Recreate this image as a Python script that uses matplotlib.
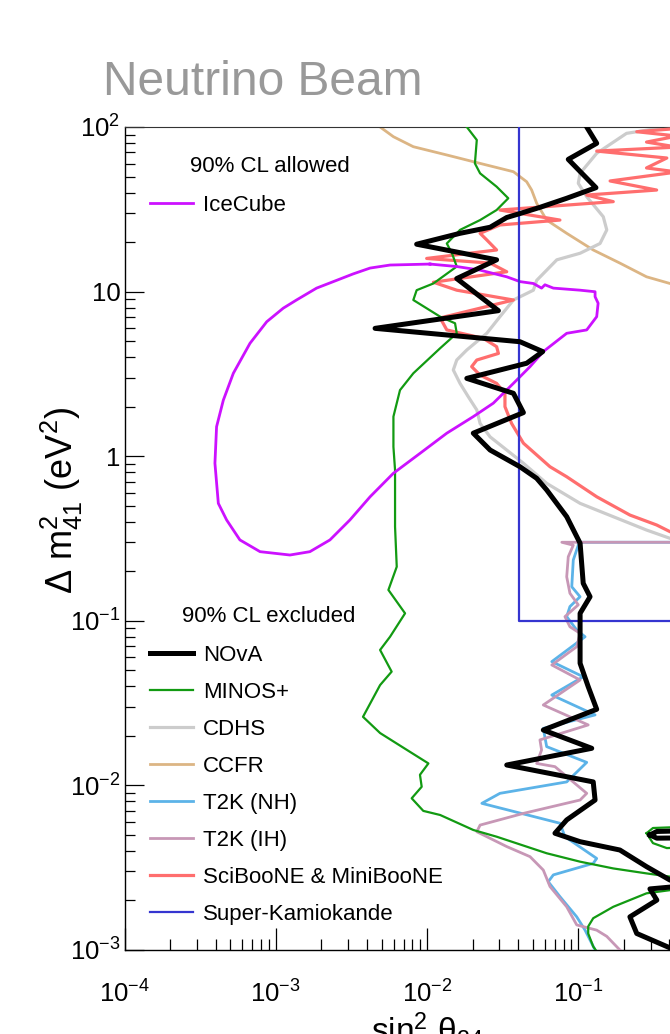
import matplotlib
matplotlib.use('Agg')
import matplotlib.pyplot as plt
from matplotlib.ticker import LogLocator, NullFormatter

plt.rcParams['font.family'] = ['Liberation Sans', 'DejaVu Sans']
plt.rcParams['mathtext.fontset'] = 'custom'
plt.rcParams['mathtext.rm'] = 'Liberation Sans'
plt.rcParams['mathtext.it'] = 'Liberation Sans:italic'
plt.rcParams['mathtext.bf'] = 'Liberation Sans:bold'

# ---------------- data (sin^2 theta_24, Delta m^2_41) ----------------
nova_s2 = [0.1135, 0.1321, 0.0857, 0.1306, 0.0837, 0.0557, 0.0401, 0.0336, 0.0261, 0.0165,
           0.00853, 0.0288, 0.0157, 0.0296, 0.00453, 0.0411, 0.0581, 0.0455, 0.0183, 0.0372,
           0.0433, 0.0202, 0.0261, 0.0411, 0.0530, 0.0617, 0.0837, 0.1026, 0.1076, 0.1194,
           0.1026, 0.1026, 0.1026, 0.1161, 0.1321, 0.0586, 0.1225, 0.0336, 0.1253, 0.1289,
           0.0837, 0.0700, 0.1026, 0.188, 0.282, 0.403, 0.6, 0.403, 0.297, 0.330,
           0.219, 0.243, 0.403, 0.6]
nova_dm2 = [100, 79.6, 63.6, 42.8, 36.9, 32.5, 29.6, 28.2, 24.6, 22.6,
            19.4, 15.6, 12.0, 7.66, 5.98, 4.96, 4.32, 3.67, 2.97, 2.41,
            1.84, 1.38, 1.09, 0.863, 0.734, 0.624, 0.429, 0.296, 0.169, 0.140,
            0.111, 0.0879, 0.0552, 0.0398, 0.0290, 0.0217, 0.0168, 0.0133, 0.0105, 0.00815,
            0.00617, 0.00512, 0.00455, 0.00405, 0.00321, 0.00266, 0.0025, 0.00241, 0.00235, 0.00201,
            0.00159, 0.00126, 0.00103, 0.0009]
nova_island_s2 = [0.297, 0.33, 0.5, 0.5, 0.33, 0.297]
nova_island_dm2 = [0.0050, 0.00525, 0.0053, 0.0048, 0.00478, 0.0050]

minos_s2 = [0.0183, 0.0213, 0.0207, 0.0224, 0.0288, 0.0344, 0.0288, 0.0224, 0.0165, 0.0135,
            0.0146, 0.0157, 0.0110, 0.00853, 0.00811, 0.0122, 0.0153, 0.0157, 0.0122, 0.00811,
            0.00662, 0.00599, 0.00599, 0.00614, 0.00614, 0.00630, 0.00555, 0.00715, 0.00569, 0.00489,
            0.00583, 0.00489, 0.00377, 0.00489, 0.00679, 0.0102, 0.00897, 0.00921, 0.00791, 0.00944,
            0.0122, 0.0202, 0.0288, 0.0617, 0.1026, 0.170, 0.282, 0.403, 0.8, 0.403,
            0.282, 0.170, 0.1253, 0.1161, 0.1161, 0.1253, 0.1321]
minos_dm2 = [100, 83.4, 60.1, 52.3, 43.4, 36.9, 31.3, 27.2, 23.7, 19.6,
             17.1, 14.2, 11.2, 10.2, 8.89, 7.04, 6.42, 5.58, 4.53, 3.19,
             2.52, 1.74, 1.14, 0.824, 0.373, 0.213, 0.154, 0.111, 0.0800, 0.0665,
             0.0491, 0.0407, 0.0261, 0.0208, 0.0172, 0.0136, 0.0116, 0.00981, 0.00835, 0.00700,
             0.00661, 0.00536, 0.00488, 0.00387, 0.00344, 0.00313, 0.00292, 0.00279, 0.0026, 0.00231,
             0.00221, 0.00183, 0.00156, 0.00139, 0.00126, 0.00105, 0.00098]
minos_island_s2 = [0.282, 0.311, 0.5, 0.5, 0.384, 0.311, 0.282]
minos_island_dm2 = [0.00512, 0.00551, 0.0056, 0.0042, 0.00416, 0.00446, 0.00512]

cdhs_s2 = [0.384, 0.208, 0.1321, 0.1026, 0.0998, 0.1135, 0.146, 0.154, 0.139, 0.1026,
           0.0720, 0.0530, 0.0504, 0.0372, 0.0303, 0.0248, 0.0183, 0.0157, 0.0149, 0.0165,
           0.0187, 0.0213, 0.0224, 0.0261, 0.0336, 0.0433, 0.0617, 0.1026, 0.170, 0.282,
           0.403, 0.8]
cdhs_dm2 = [100, 91.5, 69.2, 52.3, 45.5, 37.7, 28.5, 23.7, 19.6, 17.1,
            15.6, 11.7, 10.2, 8.89, 7.04, 5.58, 4.42, 3.84, 3.34, 2.77,
            2.30, 1.91, 1.58, 1.31, 1.09, 0.906, 0.684, 0.517, 0.429, 0.356,
            0.317, 0.27]

ccfr_s2 = [0.00489, 0.00599, 0.00811, 0.0135, 0.0224, 0.0372, 0.0455, 0.0491, 0.0530, 0.0617,
           0.0837, 0.1253, 0.188, 0.282, 0.403, 0.9]
ccfr_dm2 = [100, 87.3, 75.9, 67.6, 60.1, 53.5, 46.5, 41.4, 34.4, 27.2,
            22.6, 17.9, 14.9, 12.3, 11.2, 9.5]

t2knh_s2 = [1.0, 0.0998, 0.0998, 0.0925, 0.0904, 0.1026, 0.0879, 0.0837, 0.0975, 0.1107,
            0.0667, 0.1076, 0.0667, 0.1289, 0.0586, 0.0617, 0.1135, 0.0837, 0.0303, 0.0230,
            0.0755, 0.0815, 0.1321, 0.1253, 0.0683, 0.0632, 0.0755, 0.0975, 0.1107, 0.1289,
            0.14]
t2knh_dm2 = [0.30, 0.30, 0.288, 0.234, 0.161, 0.140, 0.122, 0.106, 0.0879, 0.0800,
             0.0565, 0.0457, 0.0354, 0.0268, 0.0222, 0.0172, 0.0138, 0.0105, 0.00895, 0.00778,
             0.00589, 0.00488, 0.00360, 0.00336, 0.00286, 0.00260, 0.00211, 0.00159, 0.00132, 0.001,
             0.0009]

t2kih_s2 = [1.0, 0.0777, 0.0925, 0.0857, 0.0837, 0.0879, 0.0998, 0.0815, 0.0879, 0.1026,
            0.0975, 0.0667, 0.1026, 0.0586, 0.1161, 0.0557, 0.0571, 0.0530, 0.0700, 0.1135,
            0.1026, 0.0433, 0.0224, 0.0213, 0.0336, 0.0479, 0.0586, 0.0649, 0.0837, 0.0975,
            0.1321, 0.154, 0.188, 0.2]
t2kih_dm2 = [0.30, 0.30, 0.288, 0.245, 0.185, 0.147, 0.125, 0.106, 0.0920, 0.0839,
             0.0696, 0.0539, 0.0437, 0.0308, 0.0233, 0.0189, 0.0164, 0.0136, 0.0130, 0.00895,
             0.00815, 0.00676, 0.00574, 0.00523, 0.00425, 0.00369, 0.00306, 0.00243, 0.00183, 0.00142,
             0.00132, 0.00121, 0.001, 0.00095]

boone_s2 = [0.6, 0.243, 0.45, 0.282, 0.45, 0.1321, 0.384, 0.282, 0.45, 0.162,
            0.329, 0.1135, 0.170, 0.0303, 0.0755, 0.0303, 0.0224, 0.0248, 0.0288, 0.00993,
            0.0261, 0.0336, 0.0110, 0.0157, 0.0372, 0.0122, 0.0135, 0.0235, 0.0288, 0.0296,
            0.0213, 0.0197, 0.0224, 0.0288, 0.0327, 0.0327, 0.0362, 0.0433, 0.0649, 0.0837,
            0.1321, 0.219, 0.329, 0.403, 0.8]
boone_dm2 = [100, 93.6, 88.1, 81.0, 75.5, 71.4, 64.8, 56.4, 53.3, 47.0,
             41.4, 38.6, 35.2, 31.3, 27.2, 25.4, 22.6, 20.6, 17.9, 15.9,
             14.9, 13.2, 11.4, 10.2, 8.89, 6.92, 5.85, 5.20, 4.63, 4.21,
             3.84, 3.50, 3.11, 2.77, 2.41, 2.00, 1.58, 1.20, 0.863, 0.750,
             0.567, 0.439, 0.382, 0.348, 0.30]

sk_s2 = [0.0404, 0.0404, 1.0]
sk_dm2 = [100, 0.1, 0.1]

icecube_s2 = [0.01045, 0.00569, 0.00420, 0.00324, 0.00252, 0.00186, 0.00137, 0.00112, 0.000871, 0.000675,
              0.000524, 0.000450, 0.000406, 0.000396, 0.000417, 0.000473, 0.000579, 0.000787, 0.00124, 0.00168,
              0.00228, 0.00309, 0.00420, 0.00598, 0.00897, 0.0135, 0.0202, 0.0274, 0.0372, 0.0479,
              0.0586, 0.0837, 0.1135, 0.1321, 0.135, 0.1289, 0.1289, 0.1026, 0.0683, 0.0601,
              0.0571, 0.0504, 0.0411, 0.0336, 0.0224, 0.0157, 0.01045]
icecube_dm2 = [14.7, 14.5, 13.9, 12.8, 11.7, 10.5, 8.89, 7.93, 6.56, 4.85,
               3.19, 2.19, 1.51, 0.906, 0.517, 0.410, 0.310, 0.263, 0.251, 0.263,
               0.310, 0.410, 0.567, 0.787, 1.04, 1.38, 1.74, 2.10, 2.77, 3.50,
               4.32, 5.58, 5.85, 7.04, 8.50, 9.31, 9.98, 10.2, 10.5, 11.0,
               10.5, 11.2, 11.5, 12.3, 13.5, 14.2, 14.7]

x_ticks = [1e-4, 1e-3, 1e-2, 1e-1, 1]
x_tick_labels = ['$10^{-4}$', '$10^{-3}$', '$10^{-2}$', '$10^{-1}$', '']
y_ticks = [1e-3, 1e-2, 1e-1, 1, 10, 100]
y_tick_labels = ['$10^{-3}$', '$10^{-2}$', '$10^{-1}$', '1', '10', '$10^{2}$']

# ---------------- figure ----------------
W, H = 670, 1034
fig = plt.figure(figsize=(W / 100, H / 100), dpi=100)
fig.patch.set_facecolor('white')


def fx(px):
    return px / W


def fy(py):
    return 1 - py / H


ax = fig.add_axes([fx(124.5), fy(950), 4 * 151.3 / W, 823 / H])
ax.set_xscale('log')
ax.set_yscale('log')
ax.set_xlim(1e-4, 1)
ax.set_ylim(1e-3, 100)

l_ccfr, = ax.plot(ccfr_s2, ccfr_dm2, color='#dcb584', lw=2.0, label='CCFR', zorder=2)
l_cdhs, = ax.plot(cdhs_s2, cdhs_dm2, color='#cccccc', lw=2.3, label='CDHS', zorder=2)
l_boone, = ax.plot(boone_s2, boone_dm2, color='#ff6e6e', lw=2.3, label='SciBooNE & MiniBooNE', zorder=3)
l_nh, = ax.plot(t2knh_s2, t2knh_dm2, color='#5cb3e8', lw=2.0, label='T2K (NH)', zorder=3)
l_ih, = ax.plot(t2kih_s2, t2kih_dm2, color='#c797b6', lw=2.0, label='T2K (IH)', zorder=3)
l_minos, = ax.plot(minos_s2, minos_dm2, color='#129a12', lw=1.6, label='MINOS+', zorder=4)
ax.plot(minos_island_s2, minos_island_dm2, color='#129a12', lw=1.6, zorder=4)
l_ice, = ax.plot(icecube_s2, icecube_dm2, color='#cc11ff', lw=2.0, label='IceCube', zorder=4)
l_sk, = ax.plot(sk_s2, sk_dm2, color='#3535d0', lw=1.6, label='Super-Kamiokande', zorder=5)
l_nova, = ax.plot(nova_s2, nova_dm2, color='black', lw=3.6, label='NOvA', zorder=6)
ax.plot(nova_island_s2, nova_island_dm2, color='black', lw=3.6, zorder=6)

# axes styling
ax.set_xticks(x_ticks, labels=x_tick_labels)
ax.set_yticks(y_ticks, labels=y_tick_labels)
ax.xaxis.set_minor_locator(LogLocator(base=10, subs=range(2, 10), numticks=20))
ax.yaxis.set_minor_locator(LogLocator(base=10, subs=range(2, 10), numticks=20))
ax.xaxis.set_minor_formatter(NullFormatter())
ax.yaxis.set_minor_formatter(NullFormatter())
ax.tick_params(axis='x', which='major', direction='in', length=16, width=0.9, pad=22,
               labelsize=18.5, top=False)
ax.tick_params(axis='x', which='minor', direction='in', length=8, width=0.9, top=False)
ax.tick_params(axis='y', which='major', direction='in', length=13.5, width=0.9, pad=3,
               labelsize=18.5, right=False)
ax.tick_params(axis='y', which='minor', direction='in', length=7, width=0.9, right=False)
for side in ['left', 'bottom']:
    ax.spines[side].set_linewidth(1.0)
ax.spines['top'].set_linewidth(0.8)
ax.spines['top'].set_color('#333333')

ax.set_ylabel('Δ m$^{2}_{41}$ (eV$^{2}$)', fontsize=26)
ax.yaxis.label.set_verticalalignment('center')
ax.yaxis.label.set_rotation_mode('default')
ax.yaxis.set_label_coords((62 - 124.5) / 605.2, (950 - 500) / 823)
ax.set_xlabel('sin$^{2}$ θ$_{24}$', fontsize=24)
ax.xaxis.label.set_verticalalignment('baseline')
ax.xaxis.set_label_coords(0.5, (950 - 1042) / 823)

# title
fig.text(fx(103), fy(95), 'Neutrino Beam', fontsize=34.5, color='#999999',
         ha='left', va='baseline')

# legends
LEG_FS = 16
fig.text(fx(190), fy(167), '90% CL allowed', fontsize=LEG_FS, ha='left', va='center')
leg1 = ax.legend(handles=[l_ice], loc='upper left', bbox_to_anchor=(fx(150), fy(195)),
                 bbox_transform=fig.transFigure, frameon=False, fontsize=LEG_FS,
                 borderpad=0, borderaxespad=0, handlelength=1.95, handletextpad=0.45,
                 labelspacing=0.72)
ax.add_artist(leg1)

fig.text(fx(182), fy(616), '90% CL excluded', fontsize=LEG_FS, ha='left', va='center')
leg2 = ax.legend(handles=[l_nova, l_minos, l_cdhs, l_ccfr, l_nh, l_ih, l_boone, l_sk],
                 loc='upper left', bbox_to_anchor=(fx(150), fy(645)),
                 bbox_transform=fig.transFigure, frameon=False, fontsize=LEG_FS,
                 borderpad=0, borderaxespad=0, handlelength=1.95, handletextpad=0.45,
                 labelspacing=0.72)

fig.savefig('out.png', dpi=100, facecolor='white')
